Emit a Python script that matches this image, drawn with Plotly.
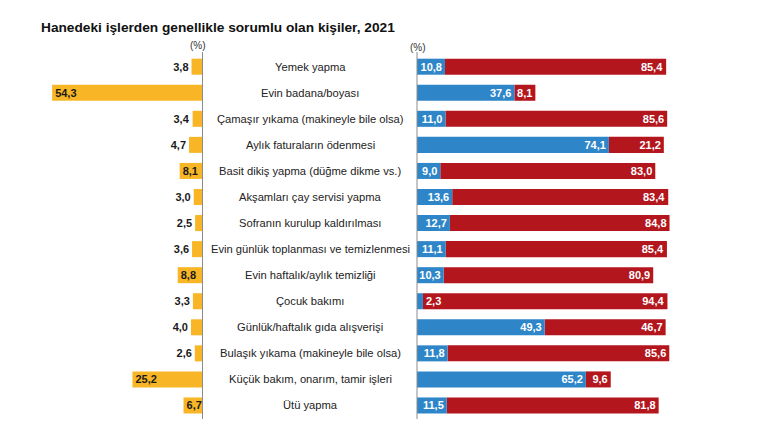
import plotly.graph_objects as go

categories = [
    "Yemek yapma",
    "Evin badana/boyası",
    "Çamaşır yıkama (makineyle bile olsa)",
    "Aylık faturaların ödenmesi",
    "Basit dikiş yapma (düğme dikme vs.)",
    "Akşamları çay servisi yapma",
    "Sofranın kurulup kaldırılması",
    "Evin günlük toplanması ve temizlenmesi",
    "Evin haftalık/aylık temizliği",
    "Çocuk bakımı",
    "Günlük/haftalık gıda alışverişi",
    "Bulaşık yıkama (makineyle bile olsa)",
    "Küçük bakım, onarım, tamir işleri",
    "Ütü yapma",
]
orange_vals = [3.8, 54.3, 3.4, 4.7, 8.1, 3.0, 2.5, 3.6, 8.8, 3.3, 4.0, 2.6, 25.2, 6.7]
blue_vals = [10.8, 37.6, 11.0, 74.1, 9.0, 13.6, 12.7, 11.1, 10.3, 2.3, 49.3, 11.8, 65.2, 11.5]
red_vals = [85.4, 8.1, 85.6, 21.2, 83.0, 83.4, 84.8, 85.4, 80.9, 94.4, 46.7, 85.6, 9.6, 81.8]

title_text = "Hanedeki işlerden genellikle sorumlu olan kişiler, 2021"
unit_text = "(%)"

ORANGE = "#F8B627"
BLUE = "#2E86C9"
RED = "#B3161D"
FONT = "Liberation Sans, Arial, sans-serif"

W, H = 770, 434


def fmt(v):
    return f"{v:.1f}".replace(".", ",")


bar_w = 0.615

fig = go.Figure()

fig.add_trace(go.Bar(
    y=categories, x=orange_vals, orientation="h",
    xaxis="x", yaxis="y", width=bar_w,
    marker=dict(color=ORANGE, line=dict(width=0)),
    text=[fmt(v) for v in orange_vals],
    textposition=["inside" if v >= 6 else "outside" for v in orange_vals],
    insidetextanchor="end", constraintext="none", cliponaxis=False,
    textfont=dict(family=FONT, size=11, color="#1a1a1a", weight="bold"),
    hoverinfo="skip", showlegend=False,
))

fig.add_trace(go.Bar(
    y=categories, x=red_vals, base=blue_vals, orientation="h",
    xaxis="x2", yaxis="y", width=bar_w,
    marker=dict(color=RED, line=dict(width=0)),
    text=[fmt(v) for v in red_vals],
    textposition="inside", insidetextanchor="end", constraintext="none",
    cliponaxis=False,
    textfont=dict(family=FONT, size=11, color="white", weight="bold"),
    hoverinfo="skip", showlegend=False,
))

fig.add_trace(go.Bar(
    y=categories, x=blue_vals, orientation="h",
    xaxis="x2", yaxis="y", width=bar_w,
    marker=dict(color=BLUE, line=dict(width=0)),
    text=[fmt(v) for v in blue_vals],
    textposition=["inside" if v >= 5 else "outside" for v in blue_vals],
    insidetextanchor="end", constraintext="none", cliponaxis=False,
    textfont=dict(family=FONT, size=11, color="white", weight="bold"),
    hoverinfo="skip", showlegend=False,
))

left_edge = 202.0 / W
right_start = 417.0 / W

annotations = []
for c in categories:
    annotations.append(dict(
        x=310.0 / W, xref="paper", y=c, yref="y",
        text=c, showarrow=False, xanchor="center", yanchor="middle",
        font=dict(family=FONT, size=11.2, color="#222222"),
    ))

annotations.append(dict(
    x=39.0 / W, xref="paper", y=1 - 27.0 / H, yref="paper",
    text=f"<b>{title_text}</b>", showarrow=False, xanchor="left", yanchor="middle",
    font=dict(family=FONT, size=13.7, color="#111111"),
))
annotations.append(dict(
    x=197.5 / W, xref="paper", y=1 - 46.0 / H, yref="paper",
    text=unit_text, showarrow=False, xanchor="center", yanchor="middle",
    font=dict(family=FONT, size=10, color="#333333"),
))
annotations.append(dict(
    x=417.5 / W, xref="paper", y=1 - 47.0 / H, yref="paper",
    text=unit_text, showarrow=False, xanchor="center", yanchor="middle",
    font=dict(family=FONT, size=10, color="#333333"),
))

shapes = [
    dict(type="line", xref="paper", yref="paper",
         x0=left_edge + 0.5 / W, x1=left_edge + 0.5 / W,
         y0=1 - 52.0 / H, y1=1 - 419.0 / H,
         line=dict(color="#8c8c8c", width=1)),
    dict(type="line", xref="paper", yref="paper",
         x0=right_start, x1=right_start,
         y0=1 - 52.0 / H, y1=1 - 419.0 / H,
         line=dict(color="#8c8c8c", width=1)),
]

fig.update_layout(
    width=W, height=H,
    margin=dict(l=0, r=0, t=0, b=0),
    paper_bgcolor="white", plot_bgcolor="white",
    barmode="overlay",
    separators=",.",
    font=dict(family=FONT),
    xaxis=dict(domain=[0, left_edge], range=[202.0 / 2.76, 0], visible=False, fixedrange=True),
    xaxis2=dict(domain=[right_start, 1], range=[0, 353.0 / 2.59], visible=False, fixedrange=True),
    yaxis=dict(domain=[0, 1], range=[(H - 66.7) / 26.06, -66.7 / 26.06], visible=False,
               type="category", categoryorder="array", categoryarray=categories,
               fixedrange=True),
    annotations=annotations,
    shapes=shapes,
)

fig.write_html(
    "out.html",
    config={"displayModeBar": False, "staticPlot": True},
    post_script="document.body.style.margin='0';document.body.style.overflow='hidden';",
)
